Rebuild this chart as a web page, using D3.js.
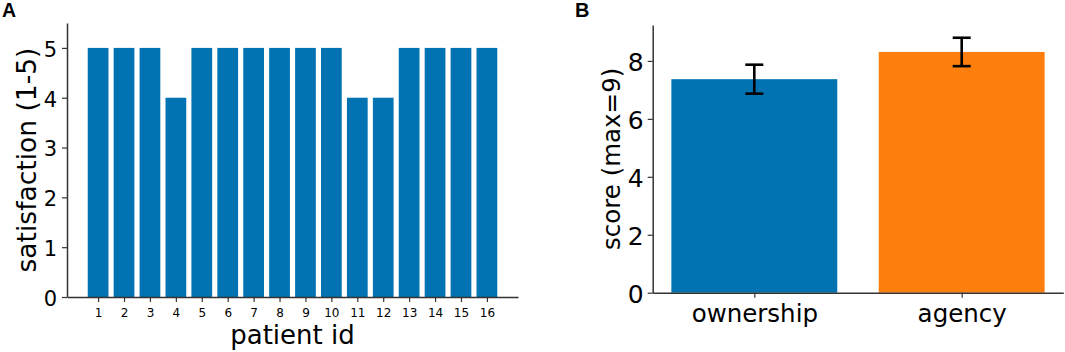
<!DOCTYPE html>
<html>
<head>
<meta charset="utf-8">
<script src="https://cdn.jsdelivr.net/npm/d3@7"></script>
<style>
  html, body { margin: 0; padding: 0; background: #fff; }
  svg text { font-family: "DejaVu Sans", sans-serif; fill: #000; }
</style>
</head>
<body>
<svg id="chart" width="1065" height="352"></svg>
<script>
// ---- data ----
const patientIds = [1, 2, 3, 4, 5, 6, 7, 8, 9, 10, 11, 12, 13, 14, 15, 16];
const satisfaction = [5, 5, 5, 4, 5, 5, 5, 5, 5, 5, 4, 4, 5, 5, 5, 5];
const satisfactionTicks = [0, 1, 2, 3, 4, 5];
const scoreCategories = ["ownership", "agency"];
const scoreMeans = [7.37, 8.31];
const scoreErrors = [0.5, 0.49];
const scoreTicks = [0, 2, 4, 6, 8];

const svg = d3.select("#chart");
const axisColor = "#333";
const blue = "#0173b2";
const orange = "#ff7f0e";

function styleAxis(g) {
  g.select(".domain").attr("stroke", axisColor).attr("stroke-width", 1.5);
  g.selectAll(".tick line").attr("stroke", axisColor).attr("stroke-width", 1.2);
}

// ---------- Panel A ----------
{
  const x = d3.scaleLinear().domain([-0.2, 17.2]).range([67, 518]);
  const y = d3.scaleLinear().domain([0, 5.5]).range([297, 23]);
  const bw = x(0.4) - x(-0.4);
  const g = svg.append("g");

  g.selectAll("rect.bar").data(patientIds).enter().append("rect")
    .attr("class", "bar")
    .attr("x", (d) => x(d) - bw / 2)
    .attr("width", bw)
    .attr("y", (d, i) => y(satisfaction[i]))
    .attr("height", (d, i) => y(0) - y(satisfaction[i]))
    .attr("fill", blue);

  const ya = g.append("g").attr("transform", `translate(${x.range()[0]},0)`)
    .call(d3.axisLeft(y).tickValues(satisfactionTicks).tickFormat(d3.format("d")).tickSize(5).tickSizeOuter(0).tickPadding(5));
  styleAxis(ya);
  ya.selectAll("text").style("font-size", "21px").attr("dy", "0.4em");

  const xa = g.append("g").attr("transform", `translate(0,${y(0)})`)
    .call(d3.axisBottom(x).tickValues(patientIds).tickFormat(d3.format("d")).tickSize(5).tickSizeOuter(0).tickPadding(5));
  styleAxis(xa);
  xa.selectAll("text").style("font-size", "12px").attr("dy", "0.85em");

  g.append("text").attr("x", (x.range()[0] + x.range()[1]) / 2).attr("y", 344)
    .attr("text-anchor", "middle").style("font-size", "26px").text("patient id");
  g.append("text")
    .attr("transform", `translate(36,${(y.range()[0] + y.range()[1]) / 2}) rotate(-90)`)
    .attr("text-anchor", "middle").style("font-size", "26.5px").text("satisfaction (1-5)");

  g.append("text").attr("x", 2).attr("y", 17)
    .style("font-family", "'Liberation Sans', Arial, sans-serif").style("font-weight", "bold")
    .style("font-size", "19.5px").text("A");
}

// ---------- Panel B ----------
{
  const x = d3.scaleLinear().domain([-0.49, 1.49]).range([652.7, 1063.3]);
  const y = d3.scaleLinear().domain([0, 9.24]).range([292.7, 25]);
  const bw = x(0.4) - x(-0.4);
  const g = svg.append("g");
  const colors = [blue, orange];

  g.selectAll("rect.bar").data(scoreCategories).enter().append("rect")
    .attr("class", "bar")
    .attr("x", (d, i) => x(i) - bw / 2)
    .attr("width", bw)
    .attr("y", (d, i) => y(scoreMeans[i]))
    .attr("height", (d, i) => y(0) - y(scoreMeans[i]))
    .attr("fill", (d, i) => colors[i]);

  const capW = 9;
  const eb = g.selectAll("g.err").data(scoreCategories).enter().append("g").attr("class", "err")
    .attr("stroke", "#000").attr("stroke-width", 2.6);
  eb.append("line")
    .attr("x1", (d, i) => x(i)).attr("x2", (d, i) => x(i))
    .attr("y1", (d, i) => y(scoreMeans[i] + scoreErrors[i]))
    .attr("y2", (d, i) => y(scoreMeans[i] - scoreErrors[i]));
  eb.append("line")
    .attr("x1", (d, i) => x(i) - capW).attr("x2", (d, i) => x(i) + capW)
    .attr("y1", (d, i) => y(scoreMeans[i] + scoreErrors[i]))
    .attr("y2", (d, i) => y(scoreMeans[i] + scoreErrors[i]));
  eb.append("line")
    .attr("x1", (d, i) => x(i) - capW).attr("x2", (d, i) => x(i) + capW)
    .attr("y1", (d, i) => y(scoreMeans[i] - scoreErrors[i]))
    .attr("y2", (d, i) => y(scoreMeans[i] - scoreErrors[i]));

  const ya = g.append("g").attr("transform", `translate(${x.range()[0]},0)`)
    .call(d3.axisLeft(y).tickValues(scoreTicks).tickFormat(d3.format("d")).tickSize(5).tickSizeOuter(0).tickPadding(4));
  styleAxis(ya);
  ya.selectAll("text").style("font-size", "25px").attr("dy", "0.38em");

  const xa = g.append("g").attr("transform", `translate(0,${y(0)})`)
    .call(d3.axisBottom(x).tickValues([0, 1]).tickFormat((d) => scoreCategories[d]).tickSize(5).tickSizeOuter(0).tickPadding(4));
  styleAxis(xa);
  xa.selectAll("text").style("font-size", "24.5px").attr("dy", "0.82em");

  g.append("text")
    .attr("transform", `translate(620,${(y.range()[0] + y.range()[1]) / 2}) rotate(-90)`)
    .attr("text-anchor", "middle").style("font-size", "24.5px").text("score (max=9)");

  g.append("text").attr("x", 575).attr("y", 17)
    .style("font-family", "'Liberation Sans', Arial, sans-serif").style("font-weight", "bold")
    .style("font-size", "20px").text("B");
}
</script>
</body>
</html>
